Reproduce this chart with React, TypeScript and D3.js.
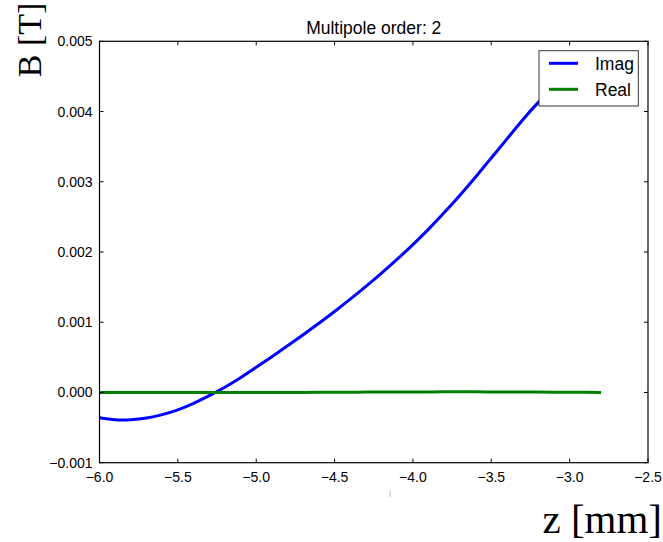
import * as d3 from "d3";

const zValues = [
  -6.0, -5.9, -5.8, -5.7, -5.6, -5.5, -5.4, -5.3, -5.2, -5.1, -5.0, -4.9, -4.8,
  -4.7, -4.6, -4.5, -4.4, -4.3, -4.2, -4.1, -4.0, -3.9, -3.8, -3.7, -3.6, -3.5,
  -3.4, -3.3, -3.2, -3.1, -3.0, -2.9, -2.8,
];
const imagValues = [
  -0.00036, -0.000388, -0.000388, -0.000363, -0.000315, -0.000247, -0.000155,
  -0.000045, 0.000075, 0.00021, 0.000358, 0.00051, 0.000665, 0.000823,
  0.000985, 0.001153, 0.001328, 0.00151, 0.0017, 0.001898, 0.002106, 0.002326,
  0.002561, 0.002809, 0.003069, 0.003339, 0.00361, 0.00388, 0.00413, 0.00435,
  0.00453, 0.00466, 0.00475,
];
const realValues = [
  0.0, 0.0, 0.0, 0.0, 0.0, 0.0, 0.0, 0.0, 0.0, 0.0, 0.0, 0.0, 0.0, 0.0,
  0.000002, 0.000003, 0.000004, 0.000005, 0.000006, 0.000007, 0.000008,
  0.000008, 0.000009, 0.000009, 0.000009, 0.000008, 0.000007, 0.000006,
  0.000005, 0.000004, 0.000003, 0.000002, 0.000001,
];
const xTicks = [-6.0, -5.5, -5.0, -4.5, -4.0, -3.5, -3.0, -2.5];
const yTicks = [-0.001, 0.0, 0.001, 0.002, 0.003, 0.004, 0.005];
const seriesNames = ["Imag", "Real"];
const seriesColors = ["#0000ff", "#007f00"];

const W = 663;
const H = 542;
const left = 99.5;
const right = 648;
const top = 41.3;
const bottom = 462.7;

export default function App() {
  const x = d3.scaleLinear().domain([-6.0, -2.5]).range([left, right]);
  const y = d3.scaleLinear().domain([-0.001, 0.005]).range([bottom, top]);

  const line = d3
    .line<number>()
    .x((_, i) => x(zValues[i]))
    .y((d) => y(d))
    .curve(d3.curveNatural);

  const fmtX = d3.format(".1f");
  const fmtY = d3.format(".3f");
  const sans = "'Liberation Sans', Arial, sans-serif";
  const serif = "'Liberation Serif', 'Times New Roman', serif";
  const tick = 4;

  return (
    <svg
      width={W}
      height={H}
      style={{ position: "absolute", left: 0, top: 0, background: "#fff" }}
    >
      <rect width={W} height={H} fill="#fff" />
      <defs>
        <clipPath id="plot">
          <rect x={left} y={top} width={right - left} height={bottom - top} />
        </clipPath>
      </defs>

      <g clipPath="url(#plot)">
        {[imagValues, realValues].map((vals, k) => (
          <path
            key={k}
            d={line(vals) ?? ""}
            fill="none"
            stroke={seriesColors[k]}
            strokeWidth={3}
            strokeLinejoin="round"
          />
        ))}
      </g>

      {/* ticks, inward on all sides */}
      <g stroke="#000" strokeWidth={1}>
        {xTicks.map((t) => (
          <g key={"x" + t}>
            <line x1={x(t)} x2={x(t)} y1={bottom} y2={bottom - tick} />
            <line x1={x(t)} x2={x(t)} y1={top} y2={top + tick} />
          </g>
        ))}
        {yTicks.map((t) => (
          <g key={"y" + t}>
            <line x1={left} x2={left + tick} y1={y(t)} y2={y(t)} />
            <line x1={right} x2={right - tick} y1={y(t)} y2={y(t)} />
          </g>
        ))}
      </g>
      <rect
        x={left}
        y={top}
        width={right - left}
        height={bottom - top}
        fill="none"
        stroke="#000"
        strokeWidth={1.2}
      />

      <g fontFamily={sans} fontSize={14} fill="#000">
        {xTicks.map((t) => (
          <text key={"xl" + t} x={x(t)} y={bottom + 19} textAnchor="middle">
            {fmtX(t)}
          </text>
        ))}
        {yTicks.map((t) => (
          <text key={"yl" + t} x={left - 7} y={y(t) + 5} textAnchor="end">
            {fmtY(t)}
          </text>
        ))}
      </g>

      <text
        x={(left + right) / 2}
        y={top - 7}
        textAnchor="middle"
        fontFamily={sans}
        fontSize={17.5}
      >
        Multipole order: 2
      </text>

      {/* legend */}
      <g>
        <rect
          x={539}
          y={50.7}
          width={99.3}
          height={55.3}
          fill="#fff"
          stroke="#333"
          strokeWidth={1}
        />
        {seriesNames.map((n, i) => (
          <g key={n}>
            <line
              x1={549}
              x2={578}
              y1={63.3 + i * 26}
              y2={63.3 + i * 26}
              stroke={seriesColors[i]}
              strokeWidth={3}
            />
            <text
              x={595}
              y={69.5 + i * 26}
              fontFamily={sans}
              fontSize={17.5}
            >
              {n}
            </text>
          </g>
        ))}
      </g>

      {/* axis labels */}
      <text
        transform="translate(41,40) rotate(-90)"
        textAnchor="middle"
        fontFamily={serif}
        fontSize={34}
      >
        B [T]
      </text>
      <text
        x={662}
        y={533}
        textAnchor="end"
        fontFamily={serif}
        fontSize={41}
      >
        z [mm]
      </text>
      <line x1={390} x2={390} y1={491} y2={497} stroke="#bbb" strokeWidth={1} />
    </svg>
  );
}
